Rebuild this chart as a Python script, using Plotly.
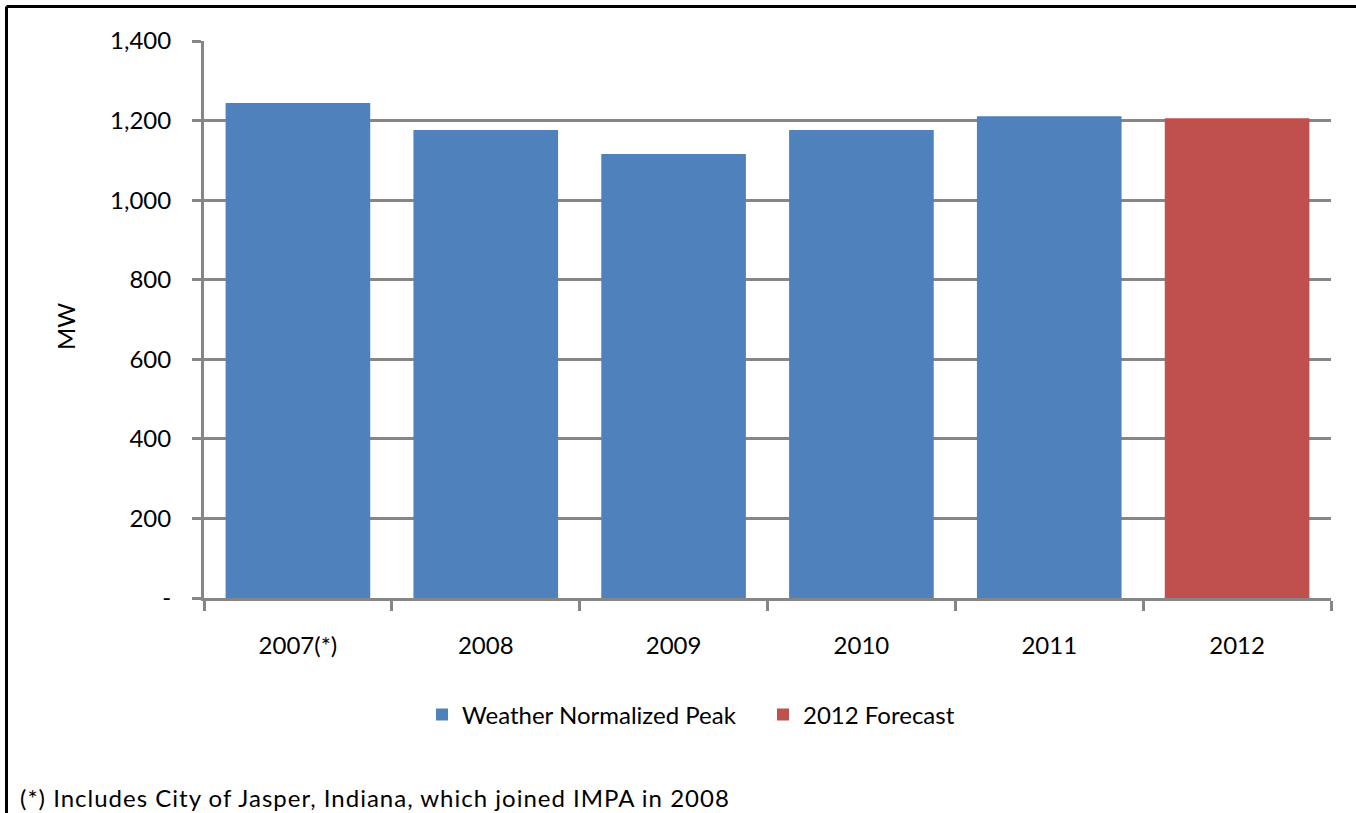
import plotly.graph_objects as go

categories = ["2007(*)", "2008", "2009", "2010", "2011", "2012"]
weather_normalized_peak = [1244, 1176, 1116, 1176, 1211, None]
forecast_2012 = [None, None, None, None, None, 1206]
y_tickvals = [0, 200, 400, 600, 800, 1000, 1200, 1400]
y_ticktext = ["-", "200", "400", "600", "800", "1,000", "1,200", "1,400"]

W, H = 1356, 813
L, R, T, B = 204, 1331, 41, 598
FONT = "Lato, Liberation Sans, sans-serif"

fig = go.Figure()
fig.add_bar(x=categories, y=weather_normalized_peak, name="Weather Normalized Peak",
            marker=dict(color="#4F81BD", line=dict(width=0)), width=0.77)
fig.add_bar(x=categories, y=forecast_2012, name="2012 Forecast",
            marker=dict(color="#C0504D", line=dict(width=0)), width=0.77)

def px_x(p):
    return (p - L) / (R - L)

def px_y(p):
    return (B - p) / (B - T)

fig.update_layout(
    width=W, height=H,
    margin=dict(l=L, r=W - R, t=T, b=H - B),
    barmode="overlay",
    plot_bgcolor="white", paper_bgcolor="white",
    font=dict(family=FONT, size=24, color="black"),
    showlegend=True,
    legend=dict(orientation="h", x=px_x(422), xanchor="left", y=px_y(715), yanchor="middle",
                font=dict(size=24), traceorder="normal", entrywidth=296, borderwidth=0),
    xaxis=dict(type="category", showline=True, linecolor="#868686", linewidth=3,
               ticks="outside", ticklen=10, tickwidth=3, tickcolor="#868686",
               tickson="boundaries", showgrid=False, ticklabelstandoff=24,
               tickfont=dict(size=24)),
    yaxis=dict(range=[0, 1400], tickvals=y_tickvals, ticktext=y_ticktext,
               showline=True, linecolor="#868686", linewidth=3,
               ticks="outside", ticklen=9, tickwidth=3, tickcolor="#868686",
               showgrid=True, gridcolor="#868686", gridwidth=3,
               zeroline=False, tickfont=dict(size=24), ticklabelstandoff=16),
    shapes=[
        dict(type="line", xref="paper", yref="paper", x0=px_x(6.5), x1=px_x(1360),
             y0=px_y(6.5), y1=px_y(6.5), line=dict(color="black", width=3)),
        dict(type="line", xref="paper", yref="paper", x0=px_x(6.5), x1=px_x(6.5),
             y0=px_y(6.5), y1=px_y(820), line=dict(color="black", width=3)),
    ],
    annotations=[
        dict(text="MW", xref="paper", yref="paper", x=px_x(65), y=px_y(327),
             xanchor="center", yanchor="middle", textangle=-90, showarrow=False,
             font=dict(size=24)),
        dict(text='<span style="letter-spacing:1px">(*) Includes City of Jasper, Indiana, which joined IMPA in 2008</span>',
             xref="paper", yref="paper", x=px_x(18), y=px_y(797), xanchor="left",
             yanchor="middle", showarrow=False, font=dict(size=24)),
    ],
)

fig.write_html("out.html", config={"displayModeBar": False},
               post_script="document.body.style.margin='0';")
